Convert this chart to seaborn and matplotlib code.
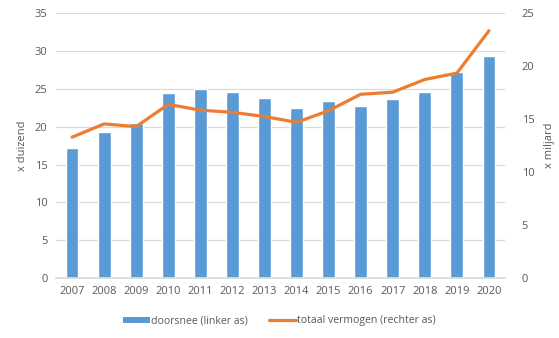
import matplotlib
matplotlib.use("Agg")
import matplotlib.pyplot as plt
import seaborn as sns
import numpy as np
import pandas as pd
from matplotlib.patches import Patch
from matplotlib.lines import Line2D

years = ["2007", "2008", "2009", "2010", "2011", "2012", "2013",
         "2014", "2015", "2016", "2017", "2018", "2019", "2020"]
doorsnee = [17.2, 19.35, 20.5, 24.4, 25.0, 24.65, 23.8,
            22.5, 23.45, 22.8, 23.7, 24.65, 27.2, 29.3]
totaal = [13.3, 14.55, 14.3, 16.4, 15.85, 15.65, 15.25,
          14.7, 15.8, 17.35, 17.55, 18.75, 19.35, 23.35]
left_ticks = [0, 5, 10, 15, 20, 25, 30, 35]
right_ticks = [0, 5, 10, 15, 20, 25]

sns.set_theme(style="white")
plt.rcParams['font.family'] = ['Open Sans', 'DejaVu Sans']

BLUE = "#5B9BD5"
ORANGE = "#ED7D31"
GRID = "#D9D9D9"
TXT = "#595959"

df = pd.DataFrame({"jaar": years, "doorsnee": doorsnee, "totaal": totaal,
                   "pos": np.arange(len(years))})

fig = plt.figure(figsize=(5.59, 3.38), dpi=100)
ax = fig.add_axes([56/559, 1 - 278/338, (505-56)/559, (278-13.3)/338])

sns.barplot(data=df, x="jaar", y="doorsnee", color=BLUE, width=0.4,
            saturation=1, ax=ax, zorder=2)
ax.set_ylim(0, 35)
ax.set_yticks(left_ticks)
ax.yaxis.grid(True, color=GRID, linewidth=0.9, zorder=0)
ax.set_axisbelow(True)
ax.set_xlim(-0.5, len(years) - 0.5)
for s in ["top", "left", "right"]:
    ax.spines[s].set_visible(False)
ax.spines["bottom"].set_color(GRID)
ax.tick_params(axis="both", length=0, labelsize=8, colors=TXT, pad=6)
ax.set_xlabel("")
ax.set_ylabel("x duizend", fontsize=8, color=TXT, labelpad=5)

ax2 = ax.twinx()
sns.lineplot(data=df, x="pos", y="totaal", color=ORANGE, linewidth=2.3, ax=ax2,
             zorder=3)
ax2.set_ylim(0, 25)
ax2.set_yticks(right_ticks)
ax2.set_xlim(-0.5, len(years) - 0.5)
for s in ["top", "left", "right", "bottom"]:
    ax2.spines[s].set_visible(False)
ax2.tick_params(axis="y", length=0, labelsize=8, colors=TXT, pad=12)
ax2.set_xlabel("")
ax2.yaxis.set_label_position("right")
ax2.set_ylabel("x miljard", fontsize=8, color=TXT, labelpad=7, rotation=90)

handles = [Patch(facecolor=BLUE, edgecolor="none"),
           Line2D([0], [0], color=ORANGE, linewidth=2.3)]
labels = ["doorsnee (linker as)", "totaal vermogen (rechter as)"]
fig.legend(handles, labels, loc="center", bbox_to_anchor=(0.5, 1 - 321/338),
           ncol=2, frameon=False, fontsize=7.6, labelcolor=TXT,
           handlelength=2.5, handleheight=0.45, columnspacing=2.0, handletextpad=0.15)

fig.savefig("out.png", dpi=100)
